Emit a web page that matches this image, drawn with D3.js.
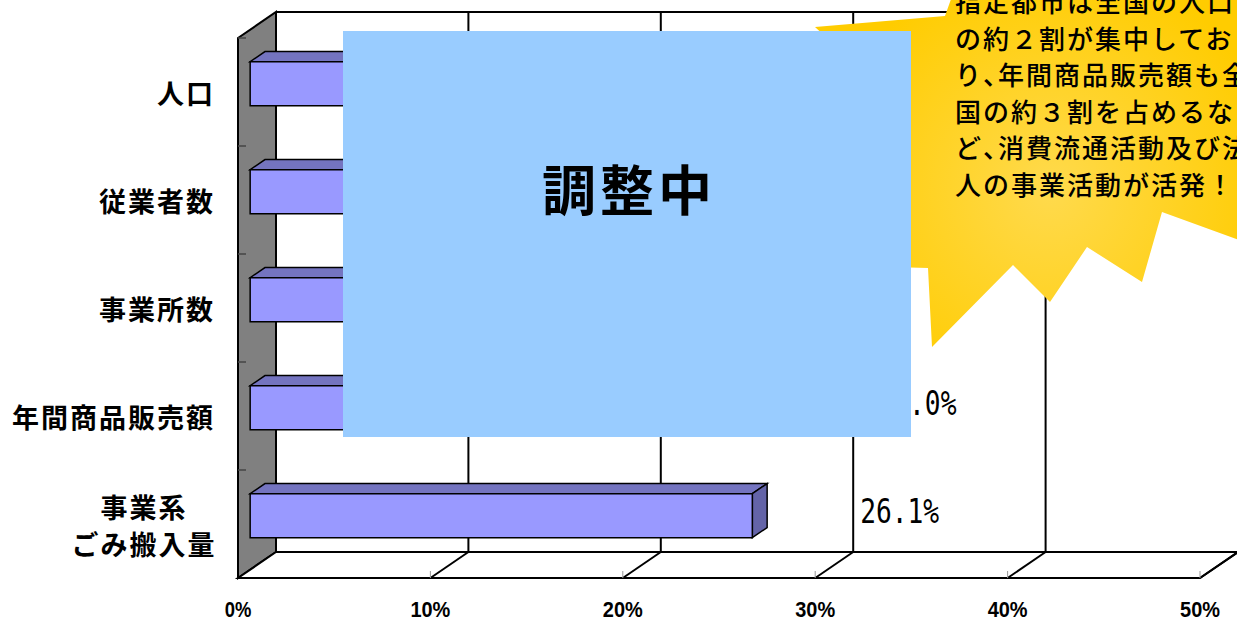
<!DOCTYPE html>
<html>
<head>
<meta charset="utf-8">
<script src="https://cdn.jsdelivr.net/npm/d3@7"></script>
<style>
  body { margin: 0; background: #fff; }
  svg { display: block; }
</style>
</head>
<body>
<div class="chart"></div>
<script>
// data
var categories = ["人口", "従業者数", "事業所数", "年間商品販売額", "事業系\nごみ搬入量"];
var values = [20.4, 22.9, 19.5, 27.0, 26.1];
var tickValues = [0, 10, 20, 30, 40, 50];
var calloutLines = [
  "指定都市は全国の人口",
  "の約２割が集中してお",
  "り、年間商品販売額も全",
  "国の約３割を占めるな",
  "ど、消費流通活動及び法",
  "人の事業活動が活発！"
];
var overlayText = "調整中";

var W = 1237, H = 622;
var DX = 38, DY = 26;          // depth offset of the 3d box
var Z0 = 0.32, Z1 = 0.71;      // bar depth range

var svg = d3.select(".chart").append("svg")
  .attr("width", W)
  .attr("height", H);

var x = d3.scaleLinear().domain([0, 50]).range([238, 1200]);
var y = d3.scaleBand().domain(categories).range([38, 578])
  .paddingInner(0.593).paddingOuter(0.2965);

function P(v, yy, z) {
  return [x(v) + z * DX, yy - z * DY];
}
function poly(pts) {
  return "M" + pts.map(function(p) { return p[0] + "," + p[1]; }).join("L") + "Z";
}

var defs = svg.append("defs");
var grad = defs.append("radialGradient")
  .attr("id", "burst")
  .attr("gradientUnits", "userSpaceOnUse")
  .attr("cx", 1050).attr("cy", 190).attr("r", 230);
grad.append("stop").attr("offset", "0%").attr("stop-color", "#ffda4d");
grad.append("stop").attr("offset", "100%").attr("stop-color", "#ffcc00");

// left wall
svg.append("path")
  .attr("d", poly([P(0, 38, 0), P(0, 38, 1), P(0, 578, 1), P(0, 578, 0)]))
  .attr("fill", "#808080")
  .attr("stroke", "#000")
  .attr("stroke-width", 2);

// wall ticks at category boundaries
var bounds = d3.range(5).map(function(i) { return 38 + i * y.step(); });
svg.append("g").selectAll("line").data(bounds).join("line")
  .attr("x1", 238).attr("x2", 246)
  .attr("y1", function(d) { return d; })
  .attr("y2", function(d) { return d; })
  .attr("stroke", "#444")
  .attr("stroke-width", 1.5);

// floor
svg.append("path")
  .attr("d", poly([P(0, 578, 0), P(50, 578, 0), P(50, 578, 1), P(0, 578, 1)]))
  .attr("fill", "#fff")
  .attr("stroke", "#000")
  .attr("stroke-width", 2);

// back wall top edge
svg.append("line")
  .attr("x1", P(0, 38, 1)[0]).attr("y1", P(0, 38, 1)[1])
  .attr("x2", P(50, 38, 1)[0]).attr("y2", P(50, 38, 1)[1])
  .attr("stroke", "#000").attr("stroke-width", 2);

// gridlines on back wall and floor
var grid = svg.append("g");
grid.selectAll(".gv").data(tickValues.slice(1)).join("line")
  .attr("class", "gv")
  .attr("x1", function(d) { return P(d, 38, 1)[0]; })
  .attr("y1", function(d) { return P(d, 38, 1)[1]; })
  .attr("x2", function(d) { return P(d, 578, 1)[0]; })
  .attr("y2", function(d) { return P(d, 578, 1)[1]; })
  .attr("stroke", "#000").attr("stroke-width", 2);
grid.selectAll(".gf").data(tickValues.slice(1)).join("line")
  .attr("class", "gf")
  .attr("x1", function(d) { return P(d, 578, 0)[0]; })
  .attr("y1", function(d) { return P(d, 578, 0)[1]; })
  .attr("x2", function(d) { return P(d, 578, 1)[0]; })
  .attr("y2", function(d) { return P(d, 578, 1)[1]; })
  .attr("stroke", "#000").attr("stroke-width", 2);
grid.selectAll(".tk").data(tickValues.slice(1)).join("line")
  .attr("class", "tk")
  .attr("x1", function(d) { return x(d); })
  .attr("x2", function(d) { return x(d); })
  .attr("y1", 571).attr("y2", 578)
  .attr("stroke", "#999").attr("stroke-width", 1);

// bars
var bars = svg.append("g").selectAll("g").data(categories).join("g");
bars.append("path") // top
  .attr("d", function(c, i) {
    var t = y(c);
    return poly([P(0, t, Z0), P(values[i], t, Z0), P(values[i], t, Z1), P(0, t, Z1)]);
  })
  .attr("fill", "#7474c0").attr("stroke", "#000").attr("stroke-width", 1.5);
bars.append("path") // side
  .attr("d", function(c, i) {
    var t = y(c), b = t + y.bandwidth();
    return poly([P(values[i], t, Z0), P(values[i], t, Z1), P(values[i], b, Z1), P(values[i], b, Z0)]);
  })
  .attr("fill", "#6464a8").attr("stroke", "#000").attr("stroke-width", 1.5);
bars.append("path") // front
  .attr("d", function(c, i) {
    var t = y(c), b = t + y.bandwidth();
    return poly([P(0, t, Z0), P(values[i], t, Z0), P(values[i], b, Z0), P(0, b, Z0)]);
  })
  .attr("fill", "#9999ff").attr("stroke", "#000").attr("stroke-width", 1.5);

// value labels: monospaced digits, the dot takes a full cell as in the original gothic font
svg.append("g").selectAll("text").data(categories).join("text")
  .attr("x", function(c, i) { return x(values[i]) + 120; })
  .attr("y", function(c) { return y(c) + y.bandwidth() / 2 - 13; })
  .attr("dominant-baseline", "central")
  .attr("font-family", "'DejaVu Sans Mono','Liberation Mono',monospace")
  .attr("font-size", 33)
  .attr("textLength", 79)
  .attr("lengthAdjust", "spacingAndGlyphs")
  .text(function(c, i) { return d3.format(".1f")(values[i]) + "%"; });

// x axis labels
svg.append("g").selectAll("text").data(tickValues).join("text")
  .attr("x", function(d) { return x(d); })
  .attr("y", 609)
  .attr("text-anchor", "middle")
  .attr("dominant-baseline", "central")
  .attr("font-family", "'Liberation Sans',Arial,sans-serif")
  .attr("font-size", 22)
  .attr("font-weight", "bold")
  .attr("textLength", function(d) { return (d + "%").length * 13.3; })
  .attr("lengthAdjust", "spacingAndGlyphs")
  .text(function(d) { return d + "%"; });

// category labels
var cat = svg.append("g").selectAll("text").data(categories).join("text")
  .attr("font-family", "'Noto Sans CJK JP',sans-serif")
  .attr("font-weight", "bold")
  .attr("font-size", 27)
  .attr("letter-spacing", 2)
  .attr("text-anchor", function(c) { return c.indexOf("\n") >= 0 ? "middle" : "end"; })
  .attr("dominant-baseline", "central");
cat.each(function(c) {
  var lines = c.split("\n");
  var cy = y(c) + y.bandwidth() / 2;
  var t = d3.select(this);
  lines.forEach(function(l, k) {
    t.append("tspan")
      .attr("x", lines.length > 1 ? 144 : 215)
      .attr("y", cy + (k - (lines.length - 1) / 2) * 37)
      .text(l);
  });
});

// starburst callout
var burst = [[965, -40], [945, 16], [815, 27], [905, 110], [855, 266], [928, 268], [932, 347],
  [1013, 265], [1050, 302], [1087, 247], [1142, 282], [1162, 212], [1300, 262], [1300, -40]];
svg.append("path")
  .attr("d", poly(burst))
  .attr("fill", "url(#burst)");
var call = svg.append("g").selectAll("text").data(calloutLines).join("text")
  .attr("y", function(d, i) { return i * 36.5; })
  .attr("dominant-baseline", "central")
  .attr("font-family", "'Noto Sans CJK JP',sans-serif")
  .attr("font-size", 26)
  .attr("font-weight", 500)
  .attr("letter-spacing", 2);
call.each(function(line) {
  var t = d3.select(this);
  // the ideographic comma is set half-width in the original
  line.split(/(、)/).forEach(function(part, k) {
    if (!part) return;
    var s = t.append("tspan").text(part);
    if (k === 0) s.attr("x", 955);
    if (part === "、") s.attr("letter-spacing", -11);
  });
});

// overlay box
svg.append("rect")
  .attr("x", 343).attr("y", 31)
  .attr("width", 568).attr("height", 406)
  .attr("fill", "#99ccff");
svg.append("text")
  .attr("x", 629).attr("y", 187)
  .attr("text-anchor", "middle")
  .attr("dominant-baseline", "central")
  .attr("font-family", "'Noto Sans CJK JP',sans-serif")
  .attr("font-weight", "bold")
  .attr("font-size", 54)
  .attr("letter-spacing", 4)
  .text(overlayText);
</script>
</body>
</html>
